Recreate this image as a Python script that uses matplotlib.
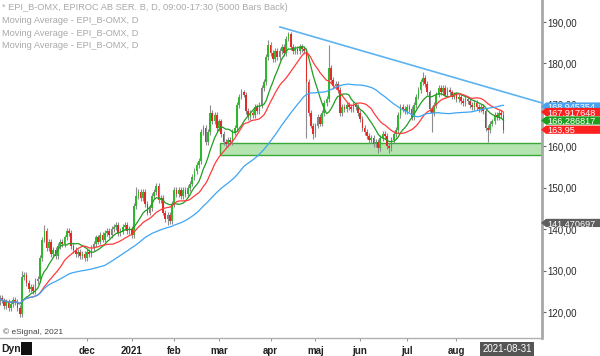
import numpy as np
import pandas as pd
import matplotlib
matplotlib.use('Agg')
import matplotlib.pyplot as plt
import matplotlib.transforms as mtransforms
from matplotlib.patches import Rectangle, Polygon

plt.rcParams['font.family'] = ['Liberation Sans', 'DejaVu Sans']

# trading days (Stockholm holidays removed)
holidays = ['2020-12-24', '2020-12-25', '2020-12-31', '2021-01-01', '2021-01-06',
            '2021-04-02', '2021-04-05', '2021-05-13', '2021-06-25']
dates = pd.bdate_range('2020-10-05', '2021-08-31')
dates = dates[~dates.isin(pd.to_datetime(holidays))]

closes = [
    123.0, 122.5, 123.5, 122.8, 121.5, 122.5, 121.0, 122.0, 123.0, 122.5,
    121.0, 119.5, 128.5, 129.0, 127.0, 125.5, 126.0, 125.0, 127.5, 128.0,
    133.0, 137.5, 139.5, 135.5, 137.0, 134.0, 135.0, 133.5, 136.0, 137.0,
    136.5, 138.0, 139.5, 139.0, 136.0, 135.0, 134.0, 134.5, 133.5, 134.0,
    133.0, 134.5, 134.0, 135.5, 136.5, 138.0, 137.0, 138.5, 137.5, 139.0,
    139.5, 138.5, 140.0, 140.5, 141.0, 139.0, 139.5, 140.5, 141.0, 139.5,
    140.0, 138.5, 145.5, 148.0, 149.0, 147.5, 149.0, 146.0, 144.0, 145.0,
    148.0, 149.0, 150.5, 147.0, 147.5, 144.0, 142.5, 143.5, 142.0, 146.0,
    149.5, 148.5, 149.5, 148.0, 149.5, 148.5, 150.0, 151.0, 152.5, 154.0,
    155.5, 156.5, 163.5, 164.5, 161.0, 163.5, 168.0, 166.0, 167.5, 164.5,
    166.0, 163.0, 161.0, 160.5, 161.5, 161.0, 163.5, 164.5, 170.0, 172.0,
    173.0, 172.5, 168.5, 167.0, 168.0, 167.5, 169.5, 168.5, 170.0, 174.0,
    175.5, 181.5, 184.5, 182.5, 181.0, 183.0, 181.5, 183.0, 184.0, 182.5,
    186.0, 187.0, 184.0, 183.0, 183.5, 183.0, 184.0, 183.5, 183.0, 175.5,
    168.0, 165.0, 163.0, 165.0, 167.0, 165.5, 168.0, 170.5, 171.5, 179.0,
    176.0, 174.5, 175.0, 173.5, 168.0, 169.5, 169.0, 170.0, 169.5, 169.0,
    170.0, 169.5, 168.0, 166.5, 164.5, 163.5, 162.5, 161.5, 162.0, 160.5,
    161.0, 159.5, 162.0, 163.0, 162.5, 160.0, 159.5, 161.5, 163.0, 164.0,
    167.5, 169.5, 169.0, 168.5, 169.5, 169.0, 167.0, 170.0, 172.0, 173.5,
    175.5, 176.5, 175.0, 173.0, 169.0, 168.0, 170.0, 172.5, 174.0, 173.0,
    174.0, 172.5, 173.5, 173.0, 172.0, 172.5, 171.5, 172.0, 171.0, 170.5,
    171.5, 171.0, 170.0, 169.5, 170.5, 169.5, 169.0, 169.5, 168.5, 164.5,
    164.0, 165.5, 166.0, 167.5, 167.0, 168.0, 167.5, 163.95,
]
# notable wicks (index -> price)
wick_high = {12: 130.0, 22: 141.0, 63: 150.2, 72: 151.2, 96: 170.0, 110: 173.8,
             122: 185.7, 131: 187.7, 149: 184.4, 191: 178.0}
wick_low = {11: 118.8, 77: 141.0, 139: 162.0, 142: 161.8, 171: 158.3,
            176: 158.3, 195: 163.5, 220: 161.0}

ma_windows = [10, 20, 50]
ma_colors = ['#1f9f1f', '#ff3b3b', '#3da5f5']

month_labels = ['dec', '2021', 'feb', 'mar', 'apr', 'maj', 'jun', 'jul', 'aug']
price_ticks = [120, 130, 140, 150, 160, 170, 180, 190]

# trend line anchors (trading-day index, price) and support zone
trend_x = [127.2, 244.2]
trend_y = [188.8, 170.45]
zone_start, zone_lo, zone_hi = 100.4, 157.9, 160.8

# right-hand value tags: (text, price position, colour)
tags = [('168,945354', 169.6, '#4aa3f0'),
        ('167,917648', 168.28, '#ff2020'),
        ('166,286817', 166.23, '#1e9e1e'),
        ('163,95', 164.0, '#ff2020'),
        ('141,470697', 141.5, '#5e5e5e')]

c = np.array(closes)
o = np.r_[c[0], c[:-1]]
h = np.maximum(o, c) + 0.7
l = np.minimum(o, c) - 0.7
for k, v in wick_high.items():
    h[k] = v
for k, v in wick_low.items():
    l[k] = v
x = np.arange(len(c))
s = pd.Series(c)

W, H = 600, 356
AXW = 542
fig = plt.figure(figsize=(6, 3.56), dpi=100)
ax = fig.add_axes([0, 18 / H, AXW / W, 338 / H])

ax.add_patch(Rectangle((zone_start, zone_lo), 300, zone_hi - zone_lo,
                       facecolor='#b5e4b1', edgecolor='#39a839', lw=1.0, zorder=1))

up = c >= o
ax.vlines(x, l, h, color='#8c8c8c', lw=0.8, zorder=2)
ax.bar(x, np.maximum(np.abs(c - o), 0.3), bottom=np.minimum(o, c), width=0.75,
       color=np.where(up, '#2db82d', '#e02b2b'), linewidth=0, zorder=3)

for w, col in zip(ma_windows, ma_colors):
    ax.plot(x, s.rolling(w, min_periods=1).mean(), color=col, lw=0.9, zorder=4)

ax.plot(trend_x, trend_y, color='#5cb3f0', lw=1.2, zorder=5, clip_on=False)

ax.set_xlim(2.2, 244.2)
ax.set_ylim(113.73, 195.31)
ppu = 338 / (195.31 - 113.73)  # pixels per price unit

# month ticks at first trading day of each month from December
month_start = [i for i in range(1, len(dates)) if dates[i].month != dates[i - 1].month][1:]
ax.set_xticks(month_start)
ax.set_xticklabels(month_labels, fontsize=7, fontweight='bold', color='#222222')
ax.tick_params(axis='x', length=2, pad=4, color='#999999')

ax.yaxis.tick_right()
ax.set_yticks(price_ticks)
ax.set_yticklabels([f'{v},00' for v in price_ticks], fontsize=7, color='#2a2a2a')
ax.tick_params(axis='y', length=3, width=0.8, pad=1, color='#666666')

for side in ['top', 'left']:
    ax.spines[side].set_visible(False)
ax.spines['right'].set_color('#a8a8a8')
ax.spines['right'].set_linewidth(2)
ax.spines['bottom'].set_color('#b0b0b0')
ax.spines['bottom'].set_linewidth(1)

# value tags with a small arrow pointing at the axis
tr = mtransforms.blended_transform_factory(ax.transAxes, ax.transData)
half = 4.1 / ppu
x0, x1, x2 = 541 / AXW, 546 / AXW, 600 / AXW
for k, (txt, yv, col) in enumerate(tags):
    ax.add_patch(Polygon([(x0, yv), (x1, yv + half), (x2, yv + half), (x2, yv - half),
                          (x1, yv - half)], closed=True, transform=tr, facecolor=col,
                         edgecolor='none', clip_on=False, zorder=10 + 2 * k))
    ax.text(547 / AXW, yv, txt, transform=tr, ha='left', va='center_baseline',
            fontsize=6.6, color='white', clip_on=False, zorder=11 + 2 * k)


def fy(py):
    return 1 - py / H


legend = ['* EPI_B-OMX, EPIROC AB SER. B, D, 09:00-17:30 (5000 Bars Back)',
          'Moving Average - EPI_B-OMX, D',
          'Moving Average - EPI_B-OMX, D',
          'Moving Average - EPI_B-OMX, D']
for k, t in enumerate(legend):
    fig.text(2 / W, fy(8 + 12.5 * k), t, fontsize=6.7, color='#a9a9a9', va='center')

fig.text(3 / W, fy(332), '\u00a9 eSignal, 2021', fontsize=6, color='#444444', va='center')
fig.text(1 / W, fy(349), 'Dyn', fontsize=7.5, fontweight='bold', color='#222222', va='center')
fig.patches.append(Rectangle((21 / W, fy(355)), 11 / W, 13 / H, transform=fig.transFigure,
                             facecolor='#111111', edgecolor='none'))
fig.text(507 / W, fy(349), '2021-08-31', fontsize=7, color='white', ha='center', va='center',
         bbox=dict(boxstyle='square,pad=0.2', fc='#555555', ec='none'))

fig.savefig('out.png', dpi=100)
